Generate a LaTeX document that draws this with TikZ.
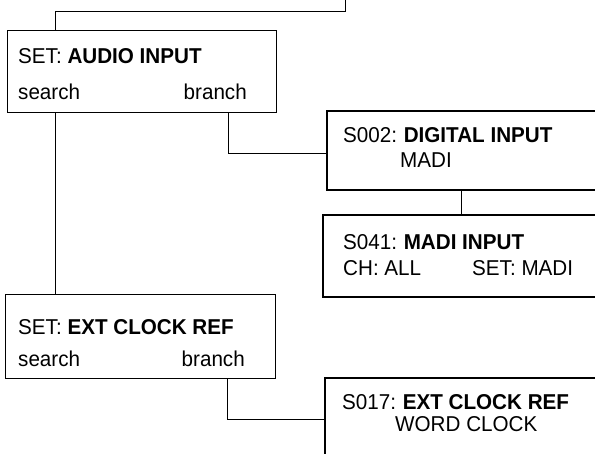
\documentclass[tikz,border=0pt]{standalone}
\usepackage{fontspec}
\setmainfont[FakeStretch=0.96]{Liberation Sans}
\begin{document}
\begin{tikzpicture}[x=1pt,y=-1pt,
  menubox/.style={draw, line width=0.9pt, anchor=north west, inner sep=0pt},
  screenbox/.style={draw, line width=2.3pt, anchor=north west, inner sep=0pt, fill=white},
  txt/.style={anchor=base west, inner sep=0pt, font=\fontsize{21.5}{25}\selectfont},
  txtr/.style={anchor=base east, inner sep=0pt, font=\fontsize{21.5}{25}\selectfont},
  wire/.style={draw, line width=0.9pt}]
\clip (0,0) rectangle (595,454);
\fill[white] (0,0) rectangle (595,454);
% boxes
\node[menubox, minimum width=269pt, minimum height=82pt] (audio) at (7,30) {};
\node[menubox, minimum width=270pt, minimum height=84pt] (clock) at (5,294) {};
\node[screenbox, minimum width=300pt, minimum height=79pt] (s002) at (326,110) {};
\node[screenbox, minimum width=300pt, minimum height=82pt] (s041) at (322,214) {};
\node[screenbox, minimum width=300pt, minimum height=110pt] (s017) at (324,377) {};
% texts
\node[txt] (t1) at (18,64) {SET: \textbf{AUDIO INPUT}};
\node[txt] (t1s) at (18,100) {search};
\node[txtr] (t1b) at (247,100) {branch};
\node[txt] (t2) at (18,335) {SET: \textbf{EXT CLOCK REF}};
\node[txt] (t2s) at (18,367) {search};
\node[txtr] (t2b) at (245,367) {branch};
\node[txt] (t3) at (343,143) {S002:\hspace{-1pt} \textbf{DIGITAL INPUT}};
\node[txt] (t3b) at (400,168) {MADI};
\node[txt] (t4) at (343,250) {S041:\hspace{-1pt} \textbf{MADI INPUT}};
\node[txt] (t4a) at (343,276) {CH: ALL};
\node[txt] (t4b) at (472,276) {SET: MADI};
\node[txt] (t5) at (342,410) {S017:\hspace{-1pt} \textbf{EXT CLOCK REF}};
\node[txt] (t5b) at (395,432) {WORD CLOCK};
% connector columns
\coordinate (cs) at (55,0);
\coordinate (cb1) at (228,0);
\coordinate (cb2) at (227,0);
\coordinate (cm) at (461,0);
\coordinate (top) at (345,0);
% connectors
\draw[wire] (audio.north -| cs) -- ++(0,-19) -| (top);
\draw[wire] (audio.south -| cs) -- (clock.north -| cs);
\draw[wire] (audio.south -| cb1) |- (s002.west |- 0,153);
\draw[wire] (s002.south -| cm) -- (s041.north -| cm);
\draw[wire] (clock.south -| cb2) |- (s017.west |- 0,419);
\end{tikzpicture}
\end{document}
